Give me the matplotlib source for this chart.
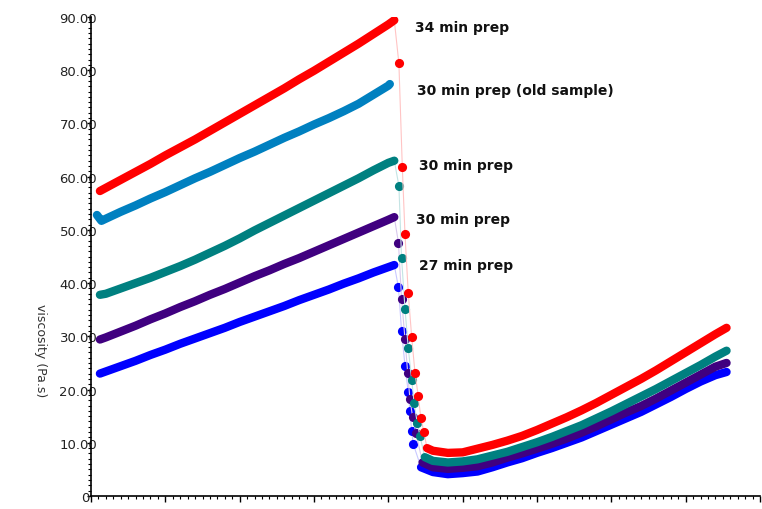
import numpy as np
import matplotlib.pyplot as plt
from matplotlib.ticker import MultipleLocator, FormatStrFormatter

# values (x = time, y = viscosity Pa.s)
# rising part
t_rise = [0.6, 1, 2, 3, 4, 5, 6, 7, 8, 9, 10, 11, 12, 13, 14, 15, 16, 17, 18, 19, 20, 20.4]
red_rise = [57.3, 57.9, 59.4, 60.9, 62.4, 64.0, 65.5, 67.0, 68.6, 70.2, 71.8,
            73.4, 75.0, 76.6, 78.3, 79.9, 81.6, 83.3, 85.0, 86.8, 88.6, 89.4]
teal_rise = [37.8, 38.0, 39.0, 40.0, 41.0, 42.1, 43.2, 44.4, 45.7, 47.0, 48.4,
             49.9, 51.3, 52.7, 54.1, 55.5, 56.9, 58.3, 59.7, 61.2, 62.6, 63.0]
purple_rise = [29.4, 29.8, 30.9, 32.0, 33.2, 34.3, 35.5, 36.6, 37.8, 38.9, 40.1,
               41.3, 42.4, 43.6, 44.7, 45.9, 47.1, 48.3, 49.5, 50.7, 51.9, 52.4]
blue_rise = [23.0, 23.4, 24.4, 25.4, 26.5, 27.5, 28.6, 29.6, 30.6, 31.6, 32.7,
             33.7, 34.7, 35.7, 36.8, 37.8, 38.8, 39.9, 40.9, 42.0, 43.0, 43.4]

# old sample: only the rising part
t_old = [0.4, 0.7, 1, 2, 3, 4, 5, 6, 7, 8, 9, 10, 11, 12, 13, 14, 15, 16, 17, 18, 19, 20, 20.1]
old_rise = [52.8, 51.7, 52.1, 53.4, 54.6, 55.9, 57.1, 58.4, 59.7, 60.9, 62.2, 63.5,
            64.7, 66.0, 67.3, 68.5, 69.8, 71.0, 72.3, 73.7, 75.4, 77.1, 77.4]

# the drop
t_red_drop = [20.71, 20.94, 21.12, 21.34, 21.57, 21.79, 22.01, 22.19, 22.39]
red_drop = [81.3, 61.8, 49.2, 38.1, 29.9, 23.2, 18.8, 14.6, 12.1]
t_teal_drop = [20.71, 20.89, 21.12, 21.34, 21.57, 21.74, 21.94, 22.13]
teal_drop = [58.3, 44.7, 35.2, 27.8, 21.8, 17.4, 13.8, 11.3]
t_purple_drop = [20.68, 20.89, 21.12, 21.30, 21.45, 21.63, 21.86]
purple_drop = [47.6, 37.1, 29.5, 23.2, 18.3, 14.9, 11.8]
t_blue_drop = [20.68, 20.89, 21.12, 21.34, 21.45, 21.57, 21.67]
blue_drop = [39.2, 31.0, 24.5, 19.5, 16.0, 12.3, 9.8]

# recovery part
t_rec = [23, 24, 25, 26, 27, 28, 29, 30, 31, 32, 33, 34, 35, 36, 37, 38, 39, 40, 41, 42, 42.75]
red_rec = [8.5, 8.1, 8.2, 8.9, 9.6, 10.4, 11.3, 12.4, 13.6, 14.8, 16.1,
           17.5, 19.0, 20.5, 22.0, 23.6, 25.3, 27.0, 28.7, 30.4, 31.6]
teal_rec = [6.6, 6.3, 6.5, 6.9, 7.6, 8.3, 9.2, 10.1, 11.1, 12.2, 13.3,
            14.6, 15.9, 17.3, 18.7, 20.1, 21.6, 23.1, 24.6, 26.2, 27.3]
purple_rec = [5.4, 5.1, 5.3, 5.6, 6.3, 7.2, 8.0, 8.9, 9.8, 10.8, 11.9,
              13.1, 14.4, 15.7, 16.9, 18.3, 19.8, 21.3, 22.8, 24.3, 25.0]
blue_rec = [4.5, 4.1, 4.3, 4.6, 5.4, 6.3, 7.1, 8.1, 9.0, 10.0, 11.0,
            12.2, 13.4, 14.6, 15.8, 17.2, 18.6, 20.1, 21.5, 22.7, 23.3]
# first point of each recovery band (bottom of the drop)
rec_start_t = {'red': 22.6, 'teal': 22.45, 'purple': 22.3, 'blue': 22.2}
rec_start_v = {'red': 9.0, 'teal': 7.3, 'purple': 6.3, 'blue': 5.4}

ytick_labels = ['0', '10.00', '20.00', '30.00', '40.00', '50.00', '60.00', '70.00', '80.00', '90.00']

labels = ['34 min prep', '30 min prep (old sample)', '30 min prep', '30 min prep', '27 min prep']
label_x = [21.79, 21.9, 22.08, 21.85, 22.08]
label_y = [88.1, 76.3, 62.2, 52.0, 43.4]

fig = plt.figure(figsize=(7.62, 5.10), dpi=100)
ax = fig.add_axes([91/762, 13/510, 669/762, 479/510])

lw_band = 6.0   # band thickness in points
msz = 6.6       # marker diameter in points

def draw(rise_t, rise_v, drop_t, drop_v, rec_t, rec_v, col, pale, z):
    tt = list(rise_t) + list(drop_t) + list(rec_t)
    vv = list(rise_v) + list(drop_v) + list(rec_v)
    ax.plot(tt, vv, color=pale, lw=0.8, zorder=z)
    ax.plot(rise_t, rise_v, color=col, lw=lw_band, solid_capstyle='round',
            solid_joinstyle='round', zorder=z + 0.5)
    if len(drop_t):
        ax.plot(drop_t, drop_v, 'o', color=col, ms=msz, mec='none', zorder=z + 0.5)
    if len(rec_t):
        ax.plot(rec_t, rec_v, color=col, lw=lw_band, solid_capstyle='round',
                solid_joinstyle='round', zorder=z + 0.5)

draw(t_rise, blue_rise, t_blue_drop, blue_drop,
     [rec_start_t['blue']] + t_rec, [rec_start_v['blue']] + blue_rec, '#0000ff', '#c8c8ff', 2)
draw(t_rise, purple_rise, t_purple_drop, purple_drop,
     [rec_start_t['purple']] + t_rec, [rec_start_v['purple']] + purple_rec, '#400080', '#d8c8ec', 3)
draw(t_rise, teal_rise, t_teal_drop, teal_drop,
     [rec_start_t['teal']] + t_rec, [rec_start_v['teal']] + teal_rec, '#008080', '#c4e4e4', 4)
draw(t_old, old_rise, [], [], [], [], '#0080c0', '#c0e0f0', 5)
draw(t_rise, red_rise, t_red_drop, red_drop,
     [rec_start_t['red']] + t_rec, [rec_start_v['red']] + red_rec, '#ff0000', '#ffc4c4', 6)

for s, x, y in zip(labels, label_x, label_y):
    ax.text(x, y, s, fontsize=10, fontweight='bold', color='#111111',
            ha='left', va='center', family='DejaVu Sans')

ax.set_xlim(0, 45)
ax.set_ylim(0, 90)
for sp in ['top', 'right']:
    ax.spines[sp].set_visible(False)
for sp in ['left', 'bottom']:
    ax.spines[sp].set_linewidth(1.2)

ax.set_yticks(np.arange(0, 91, 10))
ax.set_yticklabels(ytick_labels)
ax.yaxis.set_minor_locator(MultipleLocator(1))
ax.xaxis.set_major_locator(MultipleLocator(5))
ax.xaxis.set_minor_locator(MultipleLocator(0.5))
ax.xaxis.set_major_formatter(FormatStrFormatter('%.2f'))
ax.tick_params(axis='y', which='major', length=3, width=1, pad=-7.5,
               labelsize=9.5, labelcolor='#222222')
ax.tick_params(axis='y', which='minor', length=2, width=0.8)
# x tick labels sit below the bottom edge of the picture, only their tops show
ax.tick_params(axis='x', which='major', length=4, width=1, pad=4.5, labelsize=9.5,
               labelcolor='#444444')
ax.tick_params(axis='x', which='minor', length=2.5, width=0.8)
ax.get_yticklabels()[0].set_x(-0.012)

fig.text(40/762, 1 - 351/510, 'viscosity (Pa.s)', rotation=-90, ha='center', va='center',
         fontsize=9, color='#333333')

fig.savefig('out.png', dpi=100)
